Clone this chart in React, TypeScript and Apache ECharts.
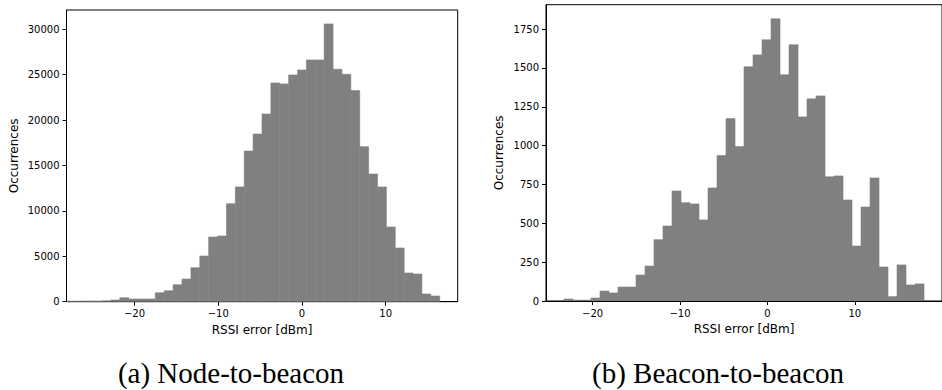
import React, { useEffect, useRef } from "react";
import * as echarts from "echarts";

// Histogram (a): Node-to-beacon — 42 bins
const leftBinStart = -28.12;
const leftBinWidth = 1.0612;
const leftCounts = [
  60, 60, 80, 80, 100, 190, 440, 300, 300, 300, 990, 1210, 1870, 2500, 3740,
  5030, 7120, 7230, 10790, 12630, 16590, 18460, 20670, 24080, 23970, 24960,
  25510, 26610, 26610, 30580, 25590, 25030, 23240, 17070, 14060, 12630, 8220,
  5910, 3160, 3050, 850, 630,
];
// Histogram (b): Beacon-to-beacon — 40 bins
const rightBinStart = -23.27;
const rightBinWidth = 1.0296;
const rightCounts = [
  13, 6, 6, 19, 64, 52, 90, 90, 167, 225, 395, 483, 708, 633, 625, 522, 728,
  936, 1174, 994, 1507, 1584, 1681, 1816, 1456, 1649, 1185, 1301, 1320, 799,
  805, 650, 354, 605, 792, 219, 28, 232, 103, 110,
];

const xTicks = [-20, -10, 0, 10];
const leftYTicks = [0, 5000, 10000, 15000, 20000, 25000, 30000];
const rightYTicks = [0, 250, 500, 750, 1000, 1250, 1500, 1750];

const xLabel = "RSSI error [dBm]";
const yLabel = "Occurrences";
const leftCaption = "(a) Node-to-beacon";
const rightCaption = "(b) Beacon-to-beacon";

function toBins(start: number, width: number, counts: number[]) {
  return counts.map((c, i) => [start + i * width, start + (i + 1) * width, c]);
}

const fmtNum = (v: number) => (v < 0 ? "\u2212" + Math.abs(v) : String(v));

const axisFont = "DejaVu Sans";

function makeX(gridIndex: number, min: number, max: number) {
  return {
    type: "value",
    gridIndex,
    min,
    max,
    name: xLabel,
    nameLocation: "middle",
    nameGap: 22,
    nameTextStyle: { fontFamily: axisFont, fontSize: 12, color: "#000" },
    splitLine: { show: false },
    axisLine: { show: true, onZero: false, lineStyle: { color: "#000", width: 1 } },
    axisTick: { show: true, length: 4, customValues: xTicks, lineStyle: { color: "#000" } },
    axisLabel: {
      customValues: xTicks,
      formatter: (v: number) => fmtNum(v),
      fontFamily: axisFont,
      fontSize: 10,
      color: "#000",
      margin: 7,
    },
  };
}

function makeY(gridIndex: number, max: number, ticks: number[], gap: number) {
  return {
    type: "value",
    gridIndex,
    min: 0,
    max,
    name: yLabel,
    nameLocation: "middle",
    nameGap: gap,
    nameTextStyle: { fontFamily: axisFont, fontSize: 12, color: "#000" },
    splitLine: { show: false },
    axisLine: { show: true, onZero: false, lineStyle: { color: "#000", width: 1 } },
    axisTick: { show: true, length: 4, customValues: ticks, lineStyle: { color: "#000" } },
    axisLabel: {
      customValues: ticks,
      formatter: (v: number) => fmtNum(v),
      fontFamily: axisFont,
      fontSize: 10,
      color: "#000",
      margin: 7,
    },
  };
}

function renderBar(params: any, api: any) {
  const x0 = api.value(0);
  const x1 = api.value(1);
  const y = api.value(2);
  const p0 = api.coord([x0, y]);
  const p1 = api.coord([x1, 0]);
  return {
    type: "rect",
    shape: { x: p0[0], y: p0[1], width: p1[0] - p0[0], height: p1[1] - p0[1] },
    style: { fill: "#808080", stroke: "#808080", lineWidth: 0.6 },
  };
}

export default function App() {
  const ref = useRef<HTMLDivElement>(null);
  useEffect(() => {
    if (!ref.current) return;
    const chart = echarts.init(ref.current, undefined, { renderer: "svg" });
    chart.setOption({
      animation: false,
      backgroundColor: "#fff",
      grid: [
        { left: 66.5, top: 10, width: 391.2, height: 291.7, show: true, borderColor: "#000", borderWidth: 1, containLabel: false },
        { left: 546, top: 4.7, width: 397.6, height: 296.3, show: true, borderColor: "#000", borderWidth: 1, containLabel: false },
      ],
      xAxis: [makeX(0, -28.12, 18.6), makeX(1, -25.33, 19.97)],
      yAxis: [makeY(0, 32110, leftYTicks, 47), makeY(1, 1907, rightYTicks, 41)],
      series: [
        {
          type: "custom",
          xAxisIndex: 0,
          yAxisIndex: 0,
          renderItem: renderBar,
          data: toBins(leftBinStart, leftBinWidth, leftCounts),
          clip: true,
          z: 1,
        },
        {
          type: "custom",
          xAxisIndex: 1,
          yAxisIndex: 1,
          renderItem: renderBar,
          data: toBins(rightBinStart, rightBinWidth, rightCounts),
          clip: true,
          z: 1,
        },
      ],
      graphic: [
        {
          type: "text",
          x: 231,
          y: 373,
          style: {
            text: leftCaption,
            fontFamily: "Liberation Serif",
            fontSize: 29,
            fill: "#000",
            align: "center",
            verticalAlign: "middle",
          },
        },
        {
          type: "text",
          x: 718,
          y: 373,
          style: {
            text: rightCaption,
            fontFamily: "Liberation Serif",
            fontSize: 29,
            fill: "#000",
            align: "center",
            verticalAlign: "middle",
          },
        },
      ],
    });
    return () => chart.dispose();
  }, []);
  return (
    <div
      ref={ref}
      style={{ position: "fixed", left: 0, top: 0, width: 942, height: 390, background: "#fff" }}
    />
  );
}
